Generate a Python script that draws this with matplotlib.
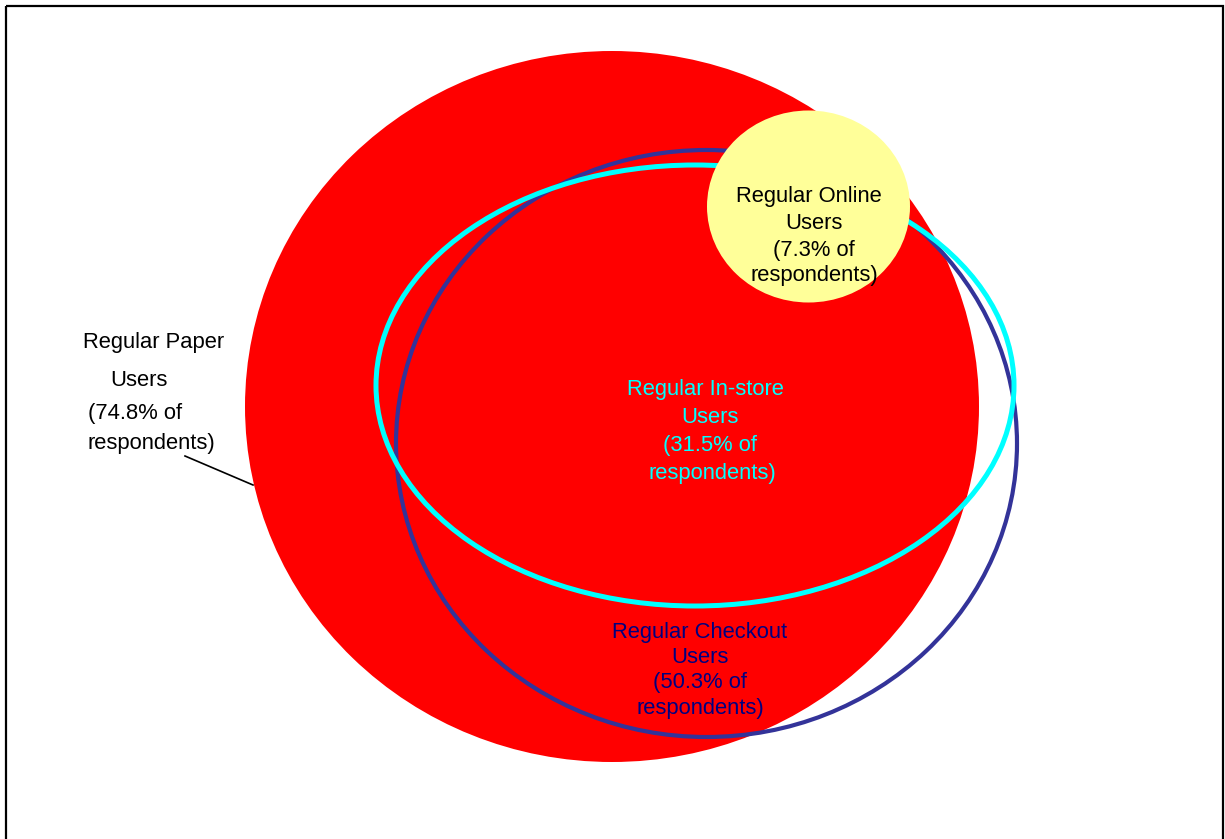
import matplotlib
matplotlib.use("Agg")
import matplotlib.pyplot as plt
from matplotlib.patches import Ellipse, Rectangle
from matplotlib.lines import Line2D

plt.rcParams['font.family'] = ['Liberation Sans', 'DejaVu Sans']

# Groups and their share of respondents
groups = ["Paper", "Online", "In-store", "Checkout"]
shares = [74.8, 7.3, 31.5, 50.3]

W, H = 1225, 839
fig = plt.figure(figsize=(W / 100, H / 100), dpi=100)
ax = fig.add_axes([0, 0, 1, 1])
ax.set_xlim(0, W)
ax.set_ylim(H, 0)
ax.axis("off")

# Ellipse geometry in pixel coordinates: (cx, cy, width, height)
shape = {
    "Paper": (612, 406.5, 734, 711),
    "Checkout": (706.5, 443.5, 621, 587),
    "In-store": (695, 385.5, 638, 441),
    "Online": (808.5, 206.5, 203, 192),
}

def ell(name, **kw):
    cx, cy, w, h = shape[name]
    ax.add_patch(Ellipse((cx, cy), w, h, **kw))

ell("Paper", facecolor="#FF0000", edgecolor="none", zorder=1)
ell("Checkout", facecolor="none", edgecolor="#333399", lw=3.0, zorder=2)
ell("In-store", facecolor="none", edgecolor="#00FFFF", lw=3.6, zorder=3)
ell("Online", facecolor="#FFFF99", edgecolor="none", zorder=4)

fs = 15.8
share = dict(zip(groups, shares))

def label(lines, color):
    # y values give the middle of the capital letters; shift to the baseline
    for (x, y, s) in lines:
        ax.text(x, y + 8, s, ha="center", va="baseline", fontsize=fs,
                color=color, zorder=6)

label([(154, 340, "Regular Paper"), (139, 378, "Users"),
       (135, 411, f"({share['Paper']}% of"), (151, 441, "respondents)")], "black")
label([(809, 194, "Regular Online"), (814, 221, "Users"),
       (814, 248, f"({share['Online']}% of"), (814, 273, "respondents)")], "black")
label([(705, 387, "Regular In-store"), (710, 415, "Users"),
       (710, 443, f"({share['In-store']}% of"), (712, 471, "respondents)")], "#00FFFF")
label([(700, 630, "Regular Checkout"), (700, 655, "Users"),
       (700, 680, f"({share['Checkout']}% of"), (700, 706, "respondents)")], "#000080")

# Leader line from the paper label to the red ellipse
ax.add_line(Line2D([185, 253], [456, 485], color="black", lw=1.2, zorder=6))

# Outer frame
ax.add_patch(Rectangle((5.8, 5.8), 1217, 900, facecolor="none",
                       edgecolor="black", lw=1.6, zorder=7, clip_on=False))

fig.savefig("out.png", dpi=100)
